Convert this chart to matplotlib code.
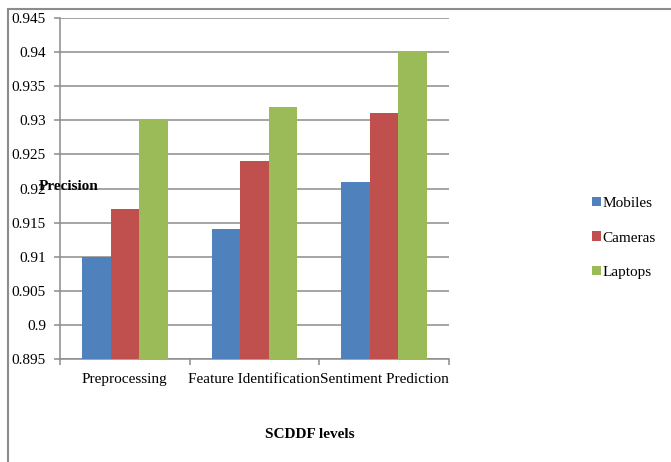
import matplotlib
matplotlib.use("Agg")
import matplotlib.pyplot as plt
from matplotlib.patches import Rectangle
import numpy as np

levels = ["Preprocessing", "Feature Identification", "Sentiment Prediction"]
series = ["Mobiles", "Cameras", "Laptops"]
mobiles = [0.910, 0.914, 0.921]
cameras = [0.917, 0.924, 0.931]
laptops = [0.930, 0.932, 0.940]
yticks = [0.895, 0.9, 0.905, 0.91, 0.915, 0.92, 0.925, 0.93, 0.935, 0.94, 0.945]

COLORS = ["#4F81BD", "#C0504D", "#9BBB59"]
GRID = "#8c8c8c"

plt.rcParams["font.family"] = ["Liberation Serif", "DejaVu Serif"]
plt.rcParams["font.size"] = 11

W, H = 671, 462
fig = plt.figure(figsize=(W / 100, H / 100), dpi=100)

# outer chart frame (only left/top edges visible)
fig.patches.append(Rectangle((8 / W, -0.1), 1.2, 1 - 9 / H + 0.1, transform=fig.transFigure,
                             fill=False, edgecolor=GRID, lw=1.5))

ax = fig.add_axes([60 / W, 1 - 359 / H, (449 - 60) / W, (359 - 18) / H])

x = np.arange(len(levels))
w = 0.22
for i, (vals, name) in enumerate(zip([mobiles, cameras, laptops], series)):
    ax.bar(x + (i - 1) * w, vals, w, color=COLORS[i], label=name, zorder=3)

ax.set_ylim(0.895, 0.945)
ax.set_xlim(-0.5, 2.5)
ax.set_yticks(yticks)
ax.set_yticklabels([f"{v:g}" for v in yticks])
ax.yaxis.grid(True, color=GRID, lw=1.1, zorder=0)
ax.set_axisbelow(True)

ax.set_xticks(x)
ax.set_xticklabels(levels)
ax.set_xticks([-0.5, 0.5, 1.5, 2.5], minor=True)
ax.tick_params(axis="x", which="major", length=0, pad=10)
ax.tick_params(axis="x", which="minor", length=4, color=GRID, width=1.1)
ax.tick_params(axis="y", length=4, color=GRID, width=1.1, pad=6)

for s in ("top", "right"):
    ax.spines[s].set_visible(False)
for s in ("left", "bottom"):
    ax.spines[s].set_color(GRID)
    ax.spines[s].set_linewidth(1.1)

fig.text(39 / W, 1 - 186 / H, "Precision", fontweight="bold", ha="left", va="center")
fig.text(310 / W, 1 - 435 / H, "SCDDF levels", fontweight="bold", ha="center", va="center")

ax.legend(loc="center left", bbox_to_anchor=(586 / W, 1 - 238 / H), bbox_transform=fig.transFigure,
          frameon=False, handlelength=0.55, handleheight=0.55, handletextpad=0.1,
          labelspacing=1.4, borderaxespad=0)

fig.savefig("out.png", dpi=100)
